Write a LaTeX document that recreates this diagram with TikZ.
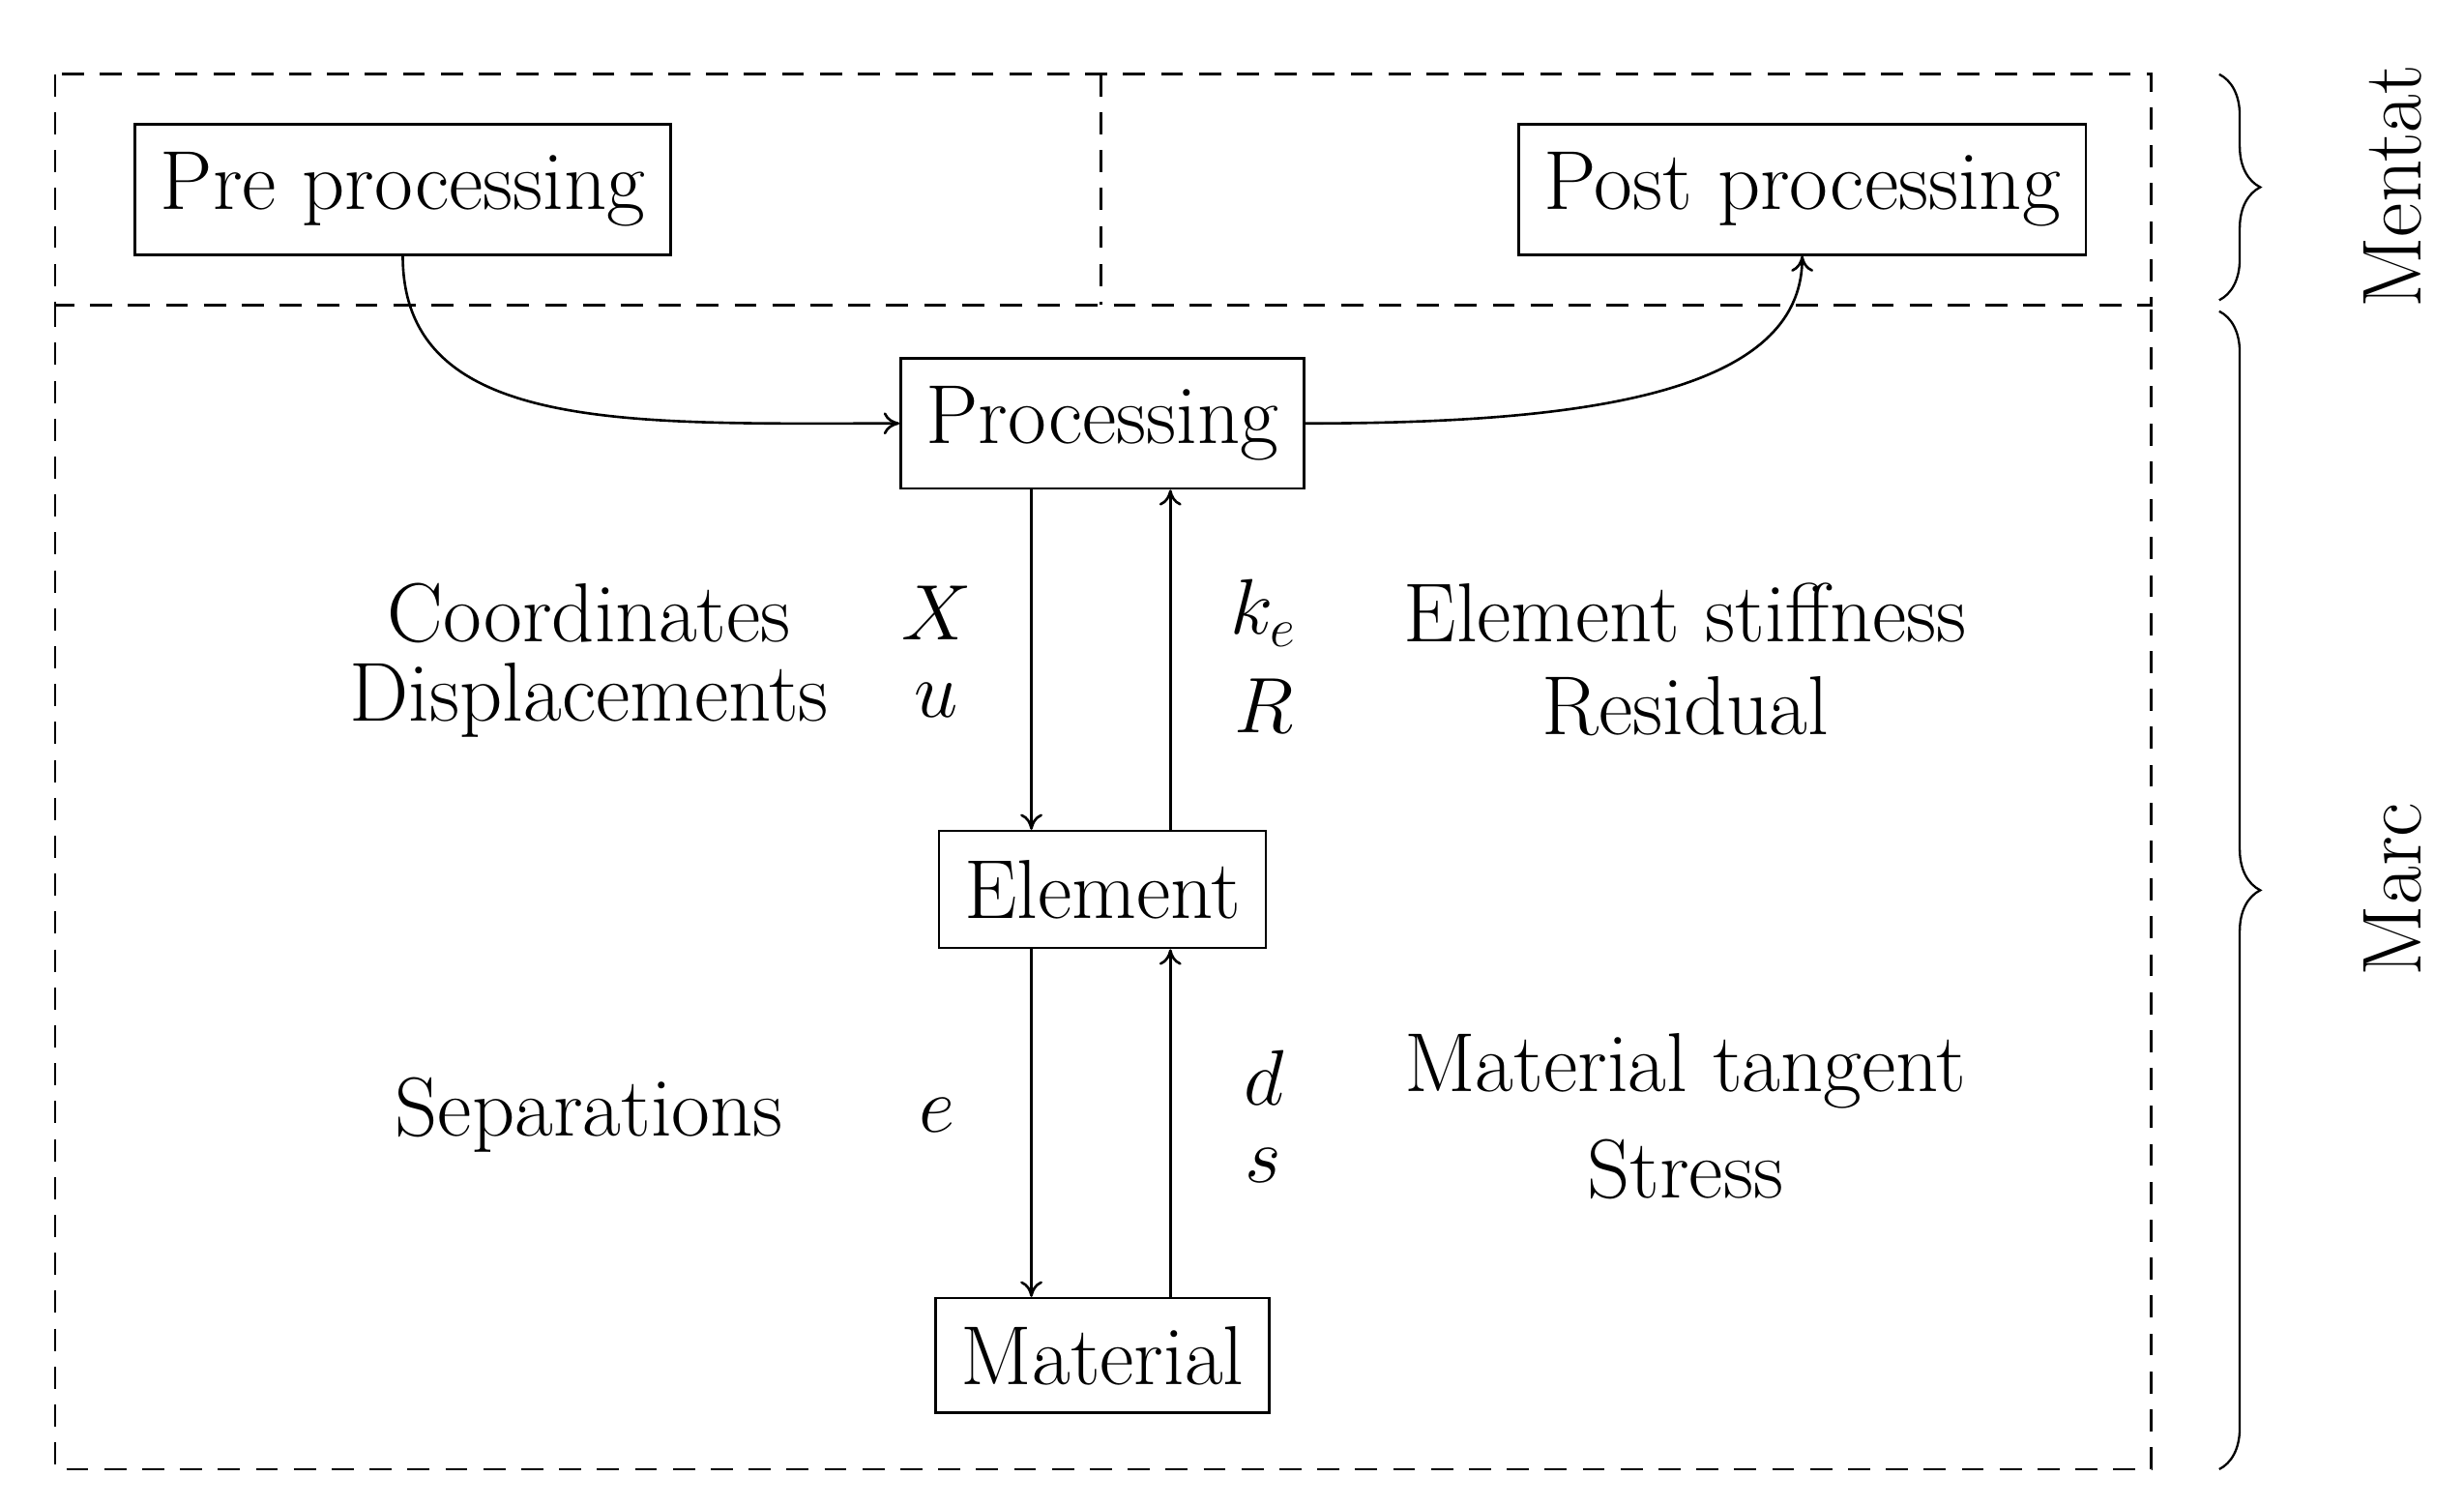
\documentclass[tikz,border=0pt]{standalone}
\usetikzlibrary{decorations.pathreplacing,arrows.meta}
\begin{document}
\fontsize{26.5}{31}\selectfont
\begin{tikzpicture}[x=0.5pt,y=-0.5pt,line width=0.8pt,
  box/.style={draw,minimum height=40pt,inner xsep=8pt},
  lbl/.style={inner sep=0pt,anchor=center},
  dsh/.style={dash pattern=on 7pt off 5pt},
  arr/.style={-{To[length=5pt,width=7pt]}},
  br/.style={decorate,decoration={brace,amplitude=13pt}}]
\useasboundingbox (0,0) rectangle (1560,953);
\draw[dsh] (35,47) rectangle (1362,193);
\draw[dsh] (697,47) -- (697,193);
\draw[dsh] (35,193) -- (35,930) -- (1362,930) -- (1362,193);
\node[box] (pre) at (255,120) {Pre processing};
\node[box] (post) at (1141,120) {Post processing};
\node[box] (proc) at (698,268) {Processing};
\node[box,minimum height=37pt] (el) at (698,563) {Element};
\node[box,minimum height=36pt] (mat) at (698,858) {Material};
\draw[arr] (pre.south) .. controls (255,275) and (400,268) .. (proc.west);
\draw[arr] (proc.east) .. controls (1000,268) and (1141,250) .. (post.south);
\draw[arr] (proc.south -| 653,0) -- (el.north -| 653,0);
\draw[arr] (el.north -| 741,0) -- (proc.south -| 741,0);
\draw[arr] (el.south -| 653,0) -- (mat.north -| 653,0);
\draw[arr] (mat.north -| 741,0) -- (el.south -| 741,0);
\node[lbl] (t1) at (373,388) {Coordinates};
\node[lbl] (t2) at (373,443) {Displacements};
\node[lbl] (t3) at (593,388) {$X$};
\node[lbl] (t4) at (593,443) {$u$};
\node[lbl] (t5) at (800,388) {$k_e$};
\node[lbl] (t6) at (800,447) {$R$};
\node[lbl] (t7) at (1067,388) {Element stiffness};
\node[lbl] (t8) at (1067,447) {Residual};
\node[lbl] (t9) at (373,706) {Separations};
\node[lbl] (t10) at (593,706) {$e$};
\node[lbl] (t11) at (800,682) {$d$};
\node[lbl] (t12) at (800,738) {$s$};
\node[lbl] (t13) at (1067,678) {Material tangent};
\node[lbl] (t14) at (1067,740) {Stress};
\coordinate (b1) at (1405,47); \coordinate (b2) at (1405,190);
\coordinate (b3) at (1405,197); \coordinate (b4) at (1405,930);
\draw[br,line width=0.7pt] (b1) -- (b2);
\draw[br,line width=0.7pt] (b3) -- (b4);
\node[rotate=90,lbl] (m1) at (1515,118) {Mentat};
\node[rotate=90,lbl] (m2) at (1515,563) {Marc};
\end{tikzpicture}
\end{document}
